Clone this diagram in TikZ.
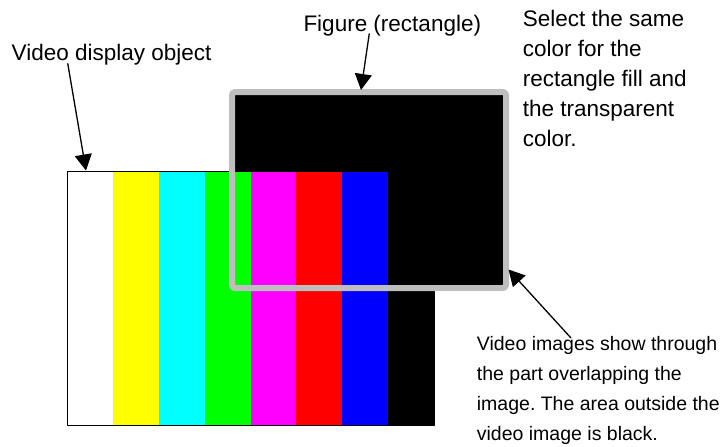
\documentclass[tikz,border=0pt]{standalone}
\usepackage{fontspec}
\setmainfont{Liberation Sans}
\usetikzlibrary{arrows.meta}
\definecolor{framegray}{RGB}{190,190,190}
\definecolor{barwhite}{RGB}{255,255,255}
\definecolor{baryellow}{RGB}{255,255,0}
\definecolor{barcyan}{RGB}{0,255,255}
\definecolor{bargreen}{RGB}{0,255,0}
\definecolor{barmagenta}{RGB}{255,0,255}
\definecolor{barred}{RGB}{255,0,0}
\definecolor{barblue}{RGB}{0,0,255}
\definecolor{barblack}{RGB}{0,0,0}
\begin{document}
\begin{tikzpicture}[x = 1pt, y = -1pt, line join = round, >={Triangle[length=16pt,width=17pt]},
	lbl/.style = {inner sep = 0, font = \fontsize{22.5}{30}\selectfont},
	note/.style = {inner sep = 0, align = left, font = \fontsize{19.5}{30}\selectfont\frenchspacing}]
	%Khung hình
	\useasboundingbox (0,0) rectangle (721,447);
	%Vùng video và hình chữ nhật
	\def\vl{67}     \def\vr{434}
	\def\vt{171}    \def\vb{425}
	\def\w{45.875}
	\fill[black] (232,92) rectangle (506,288);
	\foreach \c [count = \i from 0] in {white, yellow, cyan, green, magenta, red, blue, black}
	\fill[bar\c] ({\vl+\i*\w},\vt) rectangle ({\vl+(\i+1)*\w},\vb);
	\draw[line width = 1pt] (\vl,\vt) rectangle (\vr,\vb);
	\draw[framegray, line width = 6pt, rounded corners = 3pt] (232,92) rectangle (506,288);
	%Các nhãn
	\node[lbl, anchor = base west] (vdo) at (11.5,60) {Video display object};
	\node[lbl, anchor = base west] (fig) at (303.3,31.7) {Figure (rectangle)};
	\node[lbl, anchor = north west, align = left] (sel) at (522.7,5.7) {\strut Select the same\\color for the\\rectangle fill and\\the transparent\\color.};
	\node[note, anchor = north west] (ovl) at (476.7,329) {\strut Video images show through\\the part overlapping the\\image. The area outside the\\video image is black.};
	%Các mũi tên
	\coordinate (vdoS) at (67.7,63.3);    \coordinate (vdoT) at (86,170.5);
	\coordinate (figS) at (369.3,33.5);   \coordinate (figT) at (361,90);
	\coordinate (ovlS) at (571,338);      \coordinate (ovlT) at (508.5,269.5);
	\foreach \s/\t in {vdoS/vdoT, figS/figT, ovlS/ovlT}
	\draw[->, line width = 1.3pt] (\s) -- (\t);
\end{tikzpicture}
\end{document}
